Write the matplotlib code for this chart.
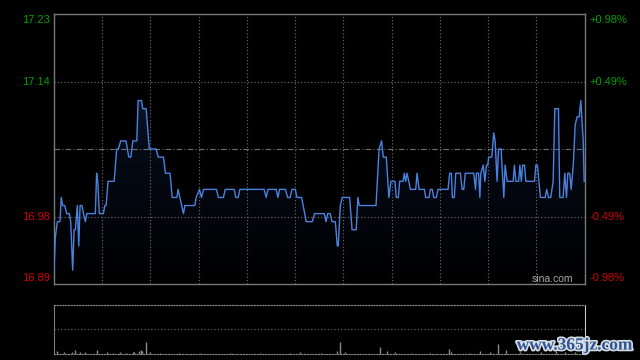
import numpy as np
import matplotlib
matplotlib.use("Agg")
import matplotlib.pyplot as plt
import matplotlib.patheffects as pe
from matplotlib.colors import LinearSegmentedColormap
from matplotlib.patches import Polygon
from matplotlib.transforms import offset_copy

# ---------------- data (minutes since open, 330-minute session) ----------
PREV_CLOSE = 17.06

minutes = [
    0.0, 0.8, 2.0, 3.7, 4.5, 5.4, 6.7, 7.9, 9.5, 10.4, 11.6, 12.5, 13.3, 14.5,
    15.4, 16.2, 17.4, 18.3, 19.5, 20.4, 25.7, 26.5, 27.2, 28.2, 30.7, 31.6,
    32.4, 33.6, 37.4, 39.0, 40.0, 41.5, 44.8, 46.5, 47.8, 49.0, 51.5, 52.3,
    54.4, 55.2, 57.3, 59.3, 63.5, 64.8, 68.1, 69.3, 72.2, 73.5, 76.4, 77.2,
    80.5, 81.4, 87.6, 88.4, 90.5, 91.7, 93.0, 101.0, 102.3, 105.4, 106.5,
    112.1, 113.1, 114.6, 115.6, 130.7, 132.0, 133.1, 138.2, 139.3, 140.3,
    144.0, 145.3, 146.9, 148.0, 150.1, 151.1, 154.0, 156.9, 160.6, 162.1,
    168.1, 169.2, 170.2, 171.8, 172.9, 175.0, 176.2, 176.8, 178.1, 179.3,
    183.9, 185.4, 188.0, 189.0, 189.9, 200.3, 202.2, 203.8, 204.8, 206.7,
    208.3, 209.6, 212.1, 212.9, 214.2, 215.0, 217.1, 217.9, 218.7, 219.6,
    221.7, 225.0, 225.8, 227.1, 230.4, 231.2, 233.3, 234.1, 235.3, 236.2,
    237.8, 238.9, 245.1, 246.1, 247.2, 247.8, 249.0, 249.9, 252.8, 253.9,
    254.9, 255.8, 261.1, 262.2, 262.8, 264.1, 264.9, 265.5, 267.0, 268.0,
    269.0, 269.8, 270.4, 272.3, 273.5, 274.4, 275.6, 276.5, 278.1, 279.8,
    280.6, 281.9, 285.6, 286.4, 287.3, 289.0, 289.8, 290.7, 291.5, 292.7,
    293.5, 298.9, 299.7, 300.7, 302.6, 305.5, 306.5, 307.6, 309.0, 310.5,
    311.5, 313.8, 314.6, 316.7, 317.7, 318.8, 319.6, 320.8, 321.7, 323.0,
    324.2, 325.4, 326.7, 327.7, 329.2, 329.8,
]
prices = [
    16.91, 16.95, 16.97, 16.97, 17.00, 16.99, 16.99, 16.98, 16.98, 16.97, 16.91,
    16.96, 16.96, 16.99, 16.94, 16.99, 16.99, 16.98, 16.97, 16.98, 16.98, 17.03,
    17.02, 16.98, 16.98, 16.99, 16.99, 17.02, 17.02, 17.06, 17.06, 17.07, 17.07,
    17.05, 17.05, 17.07, 17.07, 17.12, 17.12, 17.11, 17.11, 17.06, 17.06, 17.05,
    17.05, 17.03, 17.03, 17.00, 17.00, 17.01, 16.98, 16.99, 16.99, 17.00, 17.01,
    17.00, 17.01, 17.01, 17.00, 17.00, 17.01, 17.01, 17.00, 17.00, 17.01, 17.01,
    17.00, 17.01, 17.01, 17.00, 17.01, 17.01, 17.00, 17.00, 17.01, 17.01, 17.00,
    17.00, 16.97, 16.97, 16.98, 16.98, 16.97, 16.98, 16.98, 16.97, 16.97, 16.94,
    16.94, 16.99, 17.00, 17.00, 16.96, 16.96, 17.00, 16.99, 16.99, 17.06, 17.07,
    17.05, 17.05, 17.00, 17.02, 17.02, 17.00, 17.00, 17.02, 17.02, 17.03, 17.02,
    17.03, 17.01, 17.01, 17.03, 17.01, 17.01, 17.00, 17.00, 17.01, 17.01, 17.00,
    17.00, 17.01, 17.01, 17.03, 17.03, 17.00, 17.00, 17.03, 17.03, 17.01, 17.01,
    17.03, 17.03, 17.01, 17.03, 17.03, 17.00, 17.03, 17.04, 17.02, 17.04, 17.04,
    17.05, 17.05, 17.08, 17.07, 17.02, 17.06, 17.06, 17.00, 17.04, 17.02, 17.02,
    17.04, 17.02, 17.02, 17.04, 17.02, 17.04, 17.04, 17.02, 17.02, 17.04, 17.04,
    17.00, 17.00, 17.01, 17.00, 17.00, 17.02, 17.11, 17.11, 17.00, 17.00, 17.03,
    17.00, 17.03, 17.03, 17.01, 17.04, 17.09, 17.10, 17.10, 17.12, 17.07, 17.02,
]

vol_minutes = [2, 6, 11, 13, 16, 19, 27, 33, 37, 41, 45, 49, 50, 53, 54, 55, 57,
               60, 66, 78, 91, 110, 128, 147, 153, 166, 176, 178, 181, 203, 207,
               212, 222, 234, 246, 247, 259, 265, 271, 276, 281, 290, 303, 312,
               318, 324, 329]
volumes = [30, 15, 20, 40, 15, 20, 40, 15, 10, 15, 10, 15, 15, 30, 40, 30, 120,
           20, 10, 10, 10, 10, 10, 10, 20, 10, 30, 120, 20, 70, 30, 15, 10, 10,
           50, 20, 10, 30, 15, 100, 40, 20, 15, 30, 15, 20, 25]

pct_levels = [0.0098, 0.0049, -0.0049, -0.0098]
left_labels = ["17.23", "17.14", "16.98", "16.89"]
right_labels = ["+0.98%", "+0.49%", "-0.49%", "-0.98%"]
label_colors = ["#00a000", "#00a000", "#d00000", "#d00000"]

SESSION = 330
GRID = "#707070"

# ---------------- figure ---------------------------------------------------
plt.rcParams["font.family"] = ["Liberation Sans", "DejaVu Sans"]
fig = plt.figure(figsize=(6.4, 3.6), dpi=100, facecolor="black")

ax = fig.add_axes([0.0844, 0.2111, 0.8289, 0.75])
ax.set_facecolor("black")
lo = PREV_CLOSE * (1 - pct_levels[0])
hi = PREV_CLOSE * (1 + pct_levels[0])
ax.set_xlim(0, SESSION)
ax.set_ylim(lo, hi)

# gradient fill under the price line
grad = np.linspace(1, 0, 256).reshape(-1, 1)
cmap = LinearSegmentedColormap.from_list("fill", ["#000000", "#050a16", "#17284c"])
im = ax.imshow(grad, extent=[0, SESSION, lo, hi], aspect="auto", cmap=cmap,
               origin="upper", zorder=1, interpolation="bilinear")
poly = Polygon(list(zip(minutes, prices)) + [(minutes[-1], lo), (minutes[0], lo)],
               closed=True, transform=ax.transData)
im.set_clip_path(poly)

# grid
for m in range(30, SESSION, 30):
    ax.axvline(m, color=GRID, lw=0.8, ls=(0, (1, 2)), zorder=2)
for p in pct_levels[1:3]:
    ax.axhline(PREV_CLOSE * (1 + p), color=GRID, lw=0.8, ls=(0, (1, 2)), zorder=2)
ax.axhline(PREV_CLOSE, color=GRID, lw=0.8, ls=(0, (5, 2, 1, 2)), zorder=2)

ax.plot(minutes, prices, color="#4a82e0", lw=1.0, zorder=3)

for s in ax.spines.values():
    s.set_color("#7a7a7a")
    s.set_linewidth(1.0)
ax.set_xticks([])
ax.set_yticks([])

# price / percent labels
ytrans = ax.get_yaxis_transform()
offsets = [-4.3, 0, 0, 4.3]
for p, ll, rl, c, off in zip(pct_levels, left_labels, right_labels, label_colors, offsets):
    tr = offset_copy(ytrans, fig=fig, y=off, units="points")
    y = PREV_CLOSE * (1 + p)
    ax.text(-0.007, y, ll, transform=tr, ha="right", va="center",
            color=c, fontsize=8)
    ax.text(1.01, y, rl, transform=tr, ha="left", va="center",
            color=c, fontsize=8)

ax.text(0.978, 0.006, "sina.com", transform=ax.transAxes, ha="right",
        va="baseline", color="#a8a8a8", fontsize=7.5, zorder=4)

# ---------------- volume panel -------------------------------------------
ax2 = fig.add_axes([0.0844, 0.0167, 0.8289, 0.1361])
ax2.set_facecolor("black")
ax2.set_xlim(0, SESSION)
ax2.set_ylim(0, 490)
ax2.vlines(vol_minutes, 0, volumes, color="#8c8c8c", lw=1.0)
ax2.axhline(245, color=GRID, lw=0.8, ls=(0, (1, 2)))
ax2.spines["left"].set_color("#7a7a7a")
ax2.spines["right"].set_color("#c8c8c8")
for side in ("top", "bottom"):
    ax2.spines[side].set_color("#8a8a8a")
    ax2.spines[side].set_linestyle((0, (1, 1.5)))
ax2.set_xticks([])
ax2.set_yticks([])

# site watermark
fig.text(0.898, 0.04, "www.365jz.com", ha="center", va="center",
         fontsize=12.5, fontweight="bold", family="Liberation Serif",
         color="#2f5690",
         path_effects=[pe.withStroke(linewidth=2.4, foreground="#d8dee8")])

fig.savefig("out.png", dpi=100, facecolor="black")
